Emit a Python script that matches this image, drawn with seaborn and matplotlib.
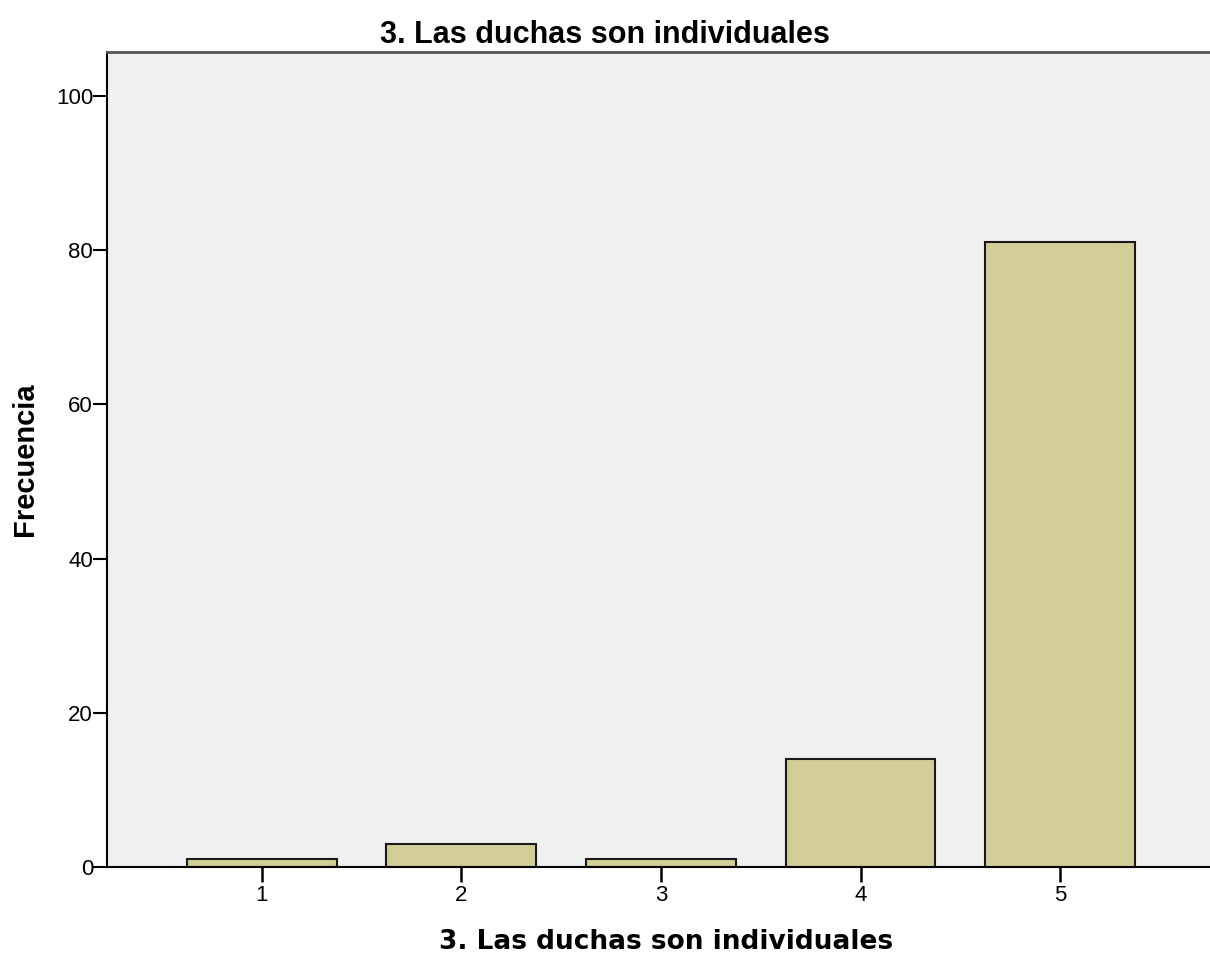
import numpy as np
import pandas as pd
import seaborn as sns
import matplotlib.pyplot as plt

categories = ["1", "2", "3", "4", "5"]
counts = [1, 3, 1, 14, 81]
title = "3. Las duchas son individuales"

df = pd.DataFrame({"cat": categories, "freq": counts})

sns.set_style("white")
plt.rcParams['font.family'] = ['Liberation Sans', 'DejaVu Sans']
plt.rcParams['text.color'] = 'black'
plt.rcParams['axes.labelcolor'] = 'black'
plt.rcParams['xtick.color'] = 'black'
plt.rcParams['ytick.color'] = 'black'

fig = plt.figure(figsize=(12.1, 9.55), dpi=100)
ax = fig.add_axes([0.0884, 0.0921, 0.9116, 0.8534])
ax.set_facecolor("#F0F0F0")

sns.barplot(data=df, x="cat", y="freq", color="#D3CE97", saturation=1,
            width=0.75, edgecolor="#1a1a1a", linewidth=1.5, ax=ax)

ax.set_xlim(-0.775, 4.75)
ax.set_ylim(0, 105.7)
ax.set_yticks([0, 20, 40, 60, 80, 100])

for s in ["left", "bottom"]:
    ax.spines[s].set_color("black")
    ax.spines[s].set_linewidth(1.5)
ax.spines["top"].set_color("#555555")
ax.spines["top"].set_linewidth(2)
ax.spines["right"].set_visible(False)

ax.tick_params(axis="y", direction="out", length=10, width=1.5, labelsize=16, pad=0, left=True)
ax.tick_params(axis="x", direction="out", length=11, width=1.8, labelsize=16, pad=2, bottom=True)

fig.text(0.5, 1 - 43 / 955, title, fontsize=22, fontweight="bold",
         ha="center", va="baseline")
ax.set_xlabel(title, fontsize=19, fontweight="bold", labelpad=16,
              family=["DejaVu Sans"])
ax.xaxis.set_label_coords(0.507, -0.1, transform=ax.transAxes)
ax.xaxis.label.set_va("baseline")
ax.set_ylabel("Frecuencia", fontsize=21, fontweight="bold", labelpad=12)

fig.savefig("out.png", dpi=100)
